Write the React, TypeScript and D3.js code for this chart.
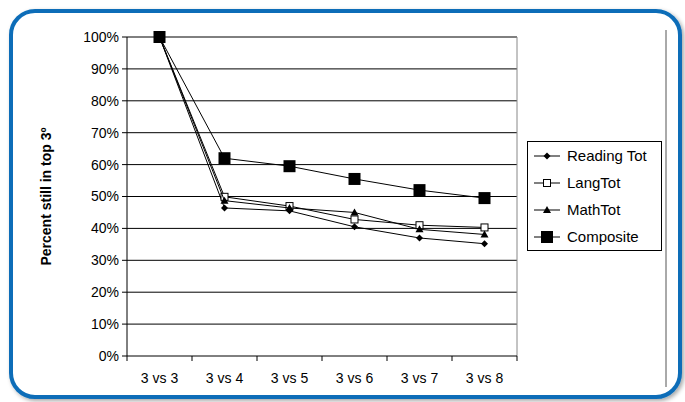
import React from 'react'
import * as d3 from 'd3'

const categories = ['3 vs 3', '3 vs 4', '3 vs 5', '3 vs 6', '3 vs 7', '3 vs 8']
const readingTot = [100, 46.4, 45.5, 40.5, 37, 35.2]
const langTot = [100, 49.9, 47, 42.8, 41, 40.3]
const mathTot = [100, 48.7, 46.4, 45, 39.7, 38.1]
const composite = [100, 62, 59.5, 55.5, 52, 49.5]
const yTicks = [0, 10, 20, 30, 40, 50, 60, 70, 80, 90, 100]

const series = [
  { name: 'Reading Tot', values: readingTot, marker: 'diamond' },
  { name: 'LangTot', values: langTot, marker: 'square-open' },
  { name: 'MathTot', values: mathTot, marker: 'triangle' },
  { name: 'Composite', values: composite, marker: 'square-big' },
]

const font = 'Liberation Sans, Arial, sans-serif'

const Marker: React.FC<{ type: string; x: number; y: number }> = ({ type, x, y }) => {
  if (type === 'diamond') return <path d={`M${x},${y - 3.5}L${x + 3.5},${y}L${x},${y + 3.5}L${x - 3.5},${y}Z`} fill="#000" />
  if (type === 'square-open') return <rect x={x - 3.5} y={y - 3.5} width={7} height={7} fill="#fff" stroke="#000" strokeWidth={1} />
  if (type === 'triangle') return <path d={`M${x},${y - 4}L${x + 4},${y + 3}L${x - 4},${y + 3}Z`} fill="#000" />
  return <rect x={x - 6} y={y - 6} width={12} height={12} fill="#000" />
}

const App: React.FC = () => {
  const left = 127, right = 517, top = 37, bottom = 356
  const x = d3.scaleBand<string>().domain(categories).range([left, right])
  const y = d3.scaleLinear().domain([0, 100]).range([bottom, top])
  const cx = (c: string) => (x(c) ?? 0) + x.bandwidth() / 2
  const line = d3.line<number>().x((_, i) => cx(categories[i])).y(d => y(d))

  return (
    <svg width={685} height={402} style={{ position: 'absolute', left: 0, top: 0 }}>
      <defs>
        <filter id="sh" x="-5%" y="-5%" width="110%" height="110%">
          <feDropShadow dx="2" dy="2" stdDeviation="2" floodColor="#000" floodOpacity="0.35" />
        </filter>
      </defs>
      <rect width={685} height={402} fill="#fff" />
      <rect x={11} y={11} width={669} height={386} rx={24} fill="#fff" stroke="#0a6db8" strokeWidth={4} filter="url(#sh)" />
      <line x1={666} x2={666} y1={30} y2={387} stroke="#555" strokeWidth={1} />
      {/* grid */}
      {yTicks.map(t => (
        <g key={t}>
          {t > 0 && <line x1={left} x2={right} y1={y(t)} y2={y(t)} stroke="#000" strokeWidth={1} />}
          <line x1={left - 5} x2={left} y1={y(t)} y2={y(t)} stroke="#000" />
          <text x={left - 8} y={y(t)} dy="0.35em" textAnchor="end" fontFamily={font} fontSize={14}>{t}%</text>
        </g>
      ))}
      <line x1={right} x2={right} y1={top} y2={bottom} stroke="#888" />
      <line x1={left} x2={left} y1={top} y2={bottom} stroke="#000" />
      <line x1={left} x2={right} y1={bottom} y2={bottom} stroke="#000" />
      {categories.map((c, i) => (
        <g key={c}>
          <line x1={(x(c) ?? 0) + x.bandwidth()} x2={(x(c) ?? 0) + x.bandwidth()} y1={bottom} y2={bottom + 5} stroke="#000" />
          {i === 0 && <line x1={left} x2={left} y1={bottom} y2={bottom + 5} stroke="#000" />}
          <text x={cx(c)} y={bottom + 27} textAnchor="middle" fontFamily={font} fontSize={14}>{c}</text>
        </g>
      ))}
      <text transform={`translate(51,${(top + bottom) / 2}) rotate(-90)`} textAnchor="middle" fontFamily={font} fontSize={14} fontWeight="bold">Percent still in top 3º</text>
      {series.map(s => (
        <g key={s.name}>
          <path d={line(s.values) ?? ''} fill="none" stroke="#000" strokeWidth={1} />
          {s.values.map((v, i) => <Marker key={i} type={s.marker} x={cx(categories[i])} y={y(v)} />)}
        </g>
      ))}
      {/* legend */}
      <rect x={527.5} y={141.5} width={134} height={109} fill="#fff" stroke="#000" />
      {series.map((s, i) => {
        const ly = 156 + i * 27
        return (
          <g key={s.name}>
            <line x1={534} x2={560} y1={ly} y2={ly} stroke="#000" />
            <Marker type={s.marker === 'square-big' ? 'square-big' : s.marker} x={547} y={ly} />
            <text x={567} y={ly} dy="0.35em" fontFamily={font} fontSize={15}>{s.name}</text>
          </g>
        )
      })}
    </svg>
  )
}

export default App
